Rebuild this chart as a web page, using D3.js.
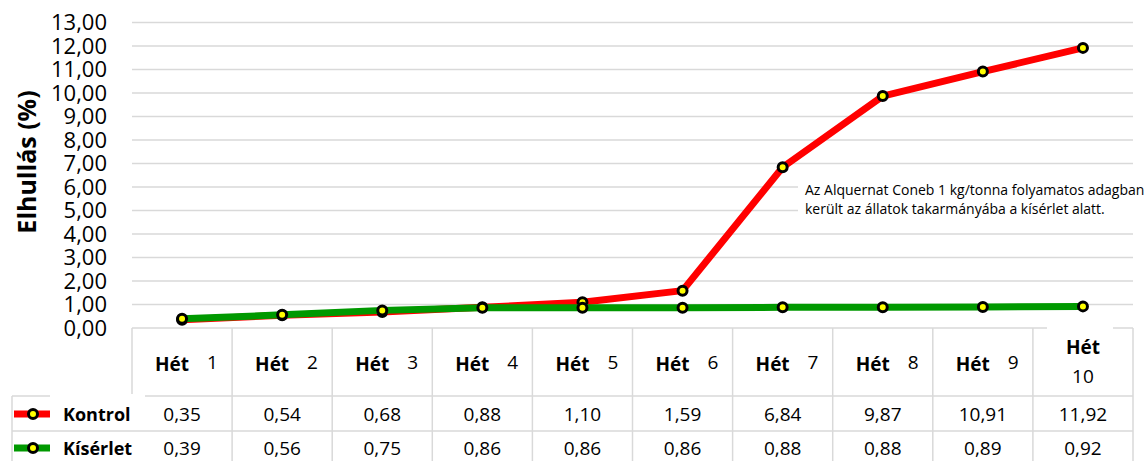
<!DOCTYPE html>
<meta charset="utf-8">
<head>
    <title>Elhullás</title>
    <script src="https://cdn.jsdelivr.net/npm/d3@7/dist/d3.min.js"></script>
    <style>
        body { margin: 0; background: white; }
        text { font-family: "Open Sans", sans-serif; fill: #000; }
    </style>
</head>
<body>
<script>
    // data
    const weeks = ["1", "2", "3", "4", "5", "6", "7", "8", "9", "10"]
    const kontrol = [0.35, 0.54, 0.68, 0.88, 1.10, 1.59, 6.84, 9.87, 10.91, 11.92]
    const kiserlet = [0.39, 0.56, 0.75, 0.86, 0.86, 0.86, 0.88, 0.88, 0.89, 0.92]
    const yTicks = [0,1,2,3,4,5,6,7,8,9,10,11,12,13]
    const seriesNames = ["Kontrol", "Kísérlet"]
    const seriesColors = ["#ff0000", "#009900"]
    const note = ["Az Alquernat Coneb 1 kg/tonna folyamatos adagban",
                  "került az állatok takarmányába a kísérlet alatt."]

    w = 1146
    h = 461
    const grid = "#d9d9d9"

    let svg = d3.select("body").append("svg")
        .attr("width", w)
        .attr("height", h)

    const hu = d3.formatLocale({decimal: ",", thousands: " ", grouping: [3], currency: ["", ""]})
    const fmt = hu.format(".2f")

    let x = d3.scaleBand().domain(weeks).range([132, 1133])
    let y = d3.scaleLinear().domain([0, 13]).range([328, 22.5])

    // gridlines
    svg.append("g").selectAll("line")
        .data(yTicks.filter(d => d > 0))
        .enter().append("line")
        .attr("x1", 132).attr("x2", 1133)
        .attr("y1", d => y(d)).attr("y2", d => y(d))
        .attr("stroke", grid).attr("stroke-width", 1.5)

    // y axis labels
    let yAxis = svg.append("g")
        .attr("transform", "translate(132,0)")
        .call(d3.axisLeft(y).tickValues(yTicks).tickFormat(fmt).tickSize(0).tickPadding(25))
    yAxis.select(".domain").remove()
    yAxis.selectAll("text")
        .style("font-family", "Open Sans")
        .style("font-size", "22px")
        .attr("fill", "#000")

    svg.append("text")
        .attr("transform", "translate(36,162) rotate(-90)")
        .attr("text-anchor", "middle")
        .attr("font-size", 25)
        .attr("font-weight", "bold")
        .text("Elhullás (%)")

    // annotation box
    svg.append("rect")
        .attr("x", 798).attr("y", 172).attr("width", 348).attr("height", 54)
        .attr("fill", "white")
    svg.append("g").selectAll("text")
        .data(note)
        .enter().append("text")
        .attr("x", 805)
        .attr("y", (d, i) => 195 + i * 19)
        .attr("font-size", 14)
        .text(d => d)

    // table lines
    let table = svg.append("g")
    const cols = weeks.map(d => x(d)).concat([1133])
    table.selectAll(".v")
        .data(cols)
        .enter().append("line")
        .attr("x1", d => d).attr("x2", d => d)
        .attr("y1", 328).attr("y2", (d, i) => i == 0 ? 394 : h)
        .attr("stroke", grid).attr("stroke-width", 1.5)
    table.append("line")
        .attr("x1", 132).attr("x2", 1047).attr("y1", 328).attr("y2", 328)
        .attr("stroke", grid).attr("stroke-width", 1.5)
    table.append("line")
        .attr("x1", 1113).attr("x2", 1133).attr("y1", 328).attr("y2", 328)
        .attr("stroke", grid).attr("stroke-width", 1.5)
    table.append("line")
        .attr("x1", 12).attr("x2", 50).attr("y1", 396).attr("y2", 396)
        .attr("stroke", grid).attr("stroke-width", 1.5)
    table.append("line")
        .attr("x1", 145).attr("x2", 1133).attr("y1", 396).attr("y2", 396)
        .attr("stroke", grid).attr("stroke-width", 1.5)
    table.append("line")
        .attr("x1", 12).attr("x2", 1133).attr("y1", 431).attr("y2", 431)
        .attr("stroke", grid).attr("stroke-width", 1.5)
    table.append("line")
        .attr("x1", 12).attr("x2", 12).attr("y1", 396).attr("y2", h)
        .attr("stroke", grid).attr("stroke-width", 1.5)

    // header labels
    let head = svg.append("g")
    weeks.forEach(function (wk) {
        let cx = x(wk)
        if (wk.length == 1) {
            head.append("text").attr("x", cx + 23).attr("y", 371)
                .attr("font-size", 19).attr("font-weight", "bold").text("Hét")
            head.append("text").attr("x", cx + 75).attr("y", 369)
                .attr("font-size", 19).text(wk)
        } else {
            head.append("text").attr("x", cx + x.bandwidth() / 2).attr("y", 354)
                .attr("text-anchor", "middle")
                .attr("font-size", 19).attr("font-weight", "bold").text("Hét")
            head.append("text").attr("x", cx + x.bandwidth() / 2).attr("y", 383)
                .attr("text-anchor", "middle")
                .attr("font-size", 19).text(wk)
        }
    })

    // value rows
    const rows = [kontrol, kiserlet]
    const rowY = [421, 455]
    rows.forEach(function (vals, r) {
        svg.append("g").selectAll("text")
            .data(vals)
            .enter().append("text")
            .attr("x", (d, i) => x(weeks[i]) + x.bandwidth() / 2)
            .attr("y", rowY[r])
            .attr("text-anchor", "middle")
            .attr("font-size", 19)
            .text(d => fmt(d))

        let key = svg.append("g")
        key.append("line")
            .attr("x1", 14).attr("x2", 50)
            .attr("y1", rowY[r] - 7).attr("y2", rowY[r] - 7)
            .attr("stroke", seriesColors[r]).attr("stroke-width", 7)
        key.append("circle")
            .attr("cx", 33).attr("cy", rowY[r] - 7).attr("r", 4.5)
            .attr("fill", "yellow").attr("stroke", "black").attr("stroke-width", 3)
        key.append("text")
            .attr("x", 63).attr("y", rowY[r])
            .attr("font-size", 18).attr("font-weight", "bold")
            .text(seriesNames[r])
    })

    // lines
    let line = d3.line()
        .x((d, i) => x(weeks[i]) + x.bandwidth() / 2)
        .y(d => y(d))

    rows.forEach(function (vals, r) {
        svg.append("path")
            .datum(vals)
            .attr("d", line)
            .attr("fill", "none")
            .attr("stroke", seriesColors[r])
            .attr("stroke-width", 7)
            .attr("stroke-linejoin", "round")
        svg.append("g").selectAll("circle")
            .data(vals)
            .enter().append("circle")
            .attr("cx", (d, i) => x(weeks[i]) + x.bandwidth() / 2)
            .attr("cy", d => y(d))
            .attr("r", 4.5)
            .attr("fill", "yellow")
            .attr("stroke", "black")
            .attr("stroke-width", 3)
    })
</script>
</body>
</html>
